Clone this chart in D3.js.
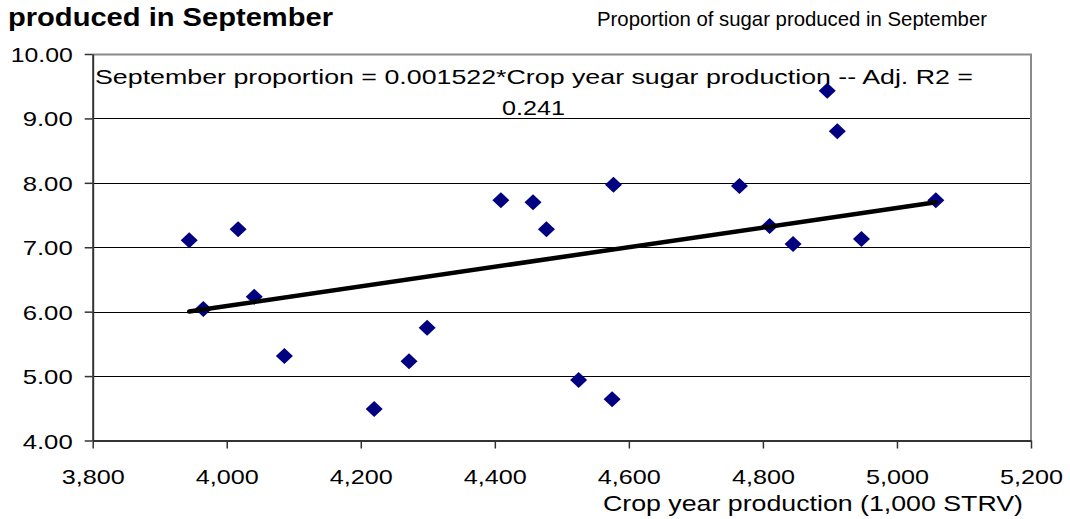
<!DOCTYPE html>
<html>
<head>
<meta charset="utf-8">
<script src="https://cdn.jsdelivr.net/npm/d3@7"></script>
<style>
  body { margin: 0; background: #fff; }
  text { font-family: "Liberation Sans", Arial, sans-serif; fill: #000; }
</style>
</head>
<body>
<div id="chart"></div>
<script>
// Crop year production (1,000 STRV) and share produced in September
var production = [3944, 3965, 4017, 4041, 4086, 4220, 4272, 4299, 4409, 4457, 4477,
                  4525, 4577, 4575, 4765, 4810, 4845, 4896, 4911, 4947, 5058];
var septShare  = [7.11, 6.04, 7.28, 6.23, 5.31, 4.49, 5.23, 5.75, 7.73, 7.70, 7.28,
                  4.94, 7.97, 4.64, 7.95, 7.33, 7.05, 9.43, 8.80, 7.13, 7.73];
var slope = 0.001522;
var xTicks = [3800, 4000, 4200, 4400, 4600, 4800, 5000, 5200];
var yTicks = [4, 5, 6, 7, 8, 9, 10];

var W = 1070, H = 519;
var margin = {top: 54, right: 39, bottom: 78.5, left: 92.7};

var xScale = d3.scaleLinear().domain([3800, 5200]).range([margin.left, W - margin.right]);
var yScale = d3.scaleLinear().domain([4, 10]).range([H - margin.bottom, margin.top]);

var svg = d3.select("#chart").append("svg")
    .attr("width", W)
    .attr("height", H);

// stretch a text node to a given width (the source chart is wider than normal type)
function fit(sel, w) {
  sel.attr("textLength", w).attr("lengthAdjust", "spacingAndGlyphs");
}

// gridlines
svg.append("g")
  .selectAll("line")
  .data(yTicks.slice(1, -1))
  .enter().append("line")
    .attr("x1", margin.left).attr("x2", W - margin.right)
    .attr("y1", function(d) { return Math.round(yScale(d)) + 0.5; })
    .attr("y2", function(d) { return Math.round(yScale(d)) + 0.5; })
    .attr("stroke", "#000").attr("stroke-width", 1);

// top and right frame
svg.append("path")
    .attr("d", "M" + margin.left + "," + (margin.top + 0.5) + "H" + (W - margin.right) + "V" + (H - margin.bottom))
    .attr("fill", "none").attr("stroke", "#8a8a8a").attr("stroke-width", 2);

// x axis
var xAxis = svg.append("g")
    .attr("transform", "translate(0," + (H - margin.bottom) + ")")
    .call(d3.axisBottom(xScale).tickValues(xTicks).tickSize(8).tickSizeOuter(0).tickFormat(d3.format(",")));
xAxis.select(".domain").attr("stroke", "#333").attr("stroke-width", 2);
xAxis.selectAll(".tick line").attr("stroke", "#333").attr("stroke-width", 1.5);
xAxis.selectAll(".tick text")
    .attr("y", 43).attr("dy", null)
    .style("font-size", "21px")
    .call(fit, 63);

// y axis
var yAxis = svg.append("g")
    .attr("transform", "translate(" + margin.left + ",0)")
    .call(d3.axisLeft(yScale).tickValues(yTicks).tickSize(8).tickSizeOuter(0).tickFormat(d3.format(".2f")));
yAxis.select(".domain").attr("stroke", "#333").attr("stroke-width", 2);
yAxis.selectAll(".tick text")
    .attr("x", -20).attr("dy", "0.36em")
    .style("font-size", "21px")
    .each(function(d) { d3.select(this).call(fit, d >= 10 ? 62 : 50); });
yAxis.selectAll(".tick line").attr("stroke", "#333").attr("stroke-width", 1.5);

// data points
var diamond = "M0,-8L8.5,0L0,8L-8.5,0Z";
svg.append("g")
  .selectAll("path")
  .data(production)
  .enter().append("path")
    .attr("d", diamond)
    .attr("fill", "#000080")
    .attr("transform", function(d, i) {
      return "translate(" + xScale(d) + "," + yScale(septShare[i]) + ")";
    });

// trend line through origin, drawn across the data range
var xr = d3.extent(production);
svg.append("line")
    .attr("x1", xScale(xr[0])).attr("y1", yScale(slope * xr[0]))
    .attr("x2", xScale(xr[1])).attr("y2", yScale(slope * xr[1]))
    .attr("stroke", "#000").attr("stroke-width", 4.5).attr("stroke-linecap", "round");

// equation label
svg.append("text")
    .attr("x", 95).attr("y", 84)
    .style("font-size", "21px")
    .text("September proportion = 0.001522*Crop year sugar production -- Adj. R2 =")
    .call(fit, 878);
svg.append("text")
    .attr("x", 502).attr("y", 115)
    .style("font-size", "21px")
    .text("0.241")
    .call(fit, 63);

// titles
svg.append("text")
    .attr("x", 8).attr("y", 26)
    .style("font-size", "25px").style("font-weight", "bold")
    .text("produced in September")
    .call(fit, 325);
svg.append("text")
    .attr("x", 597).attr("y", 26)
    .style("font-size", "21px")
    .text("Proportion of sugar produced in September")
    .call(fit, 390);
svg.append("text")
    .attr("x", 603).attr("y", 511)
    .style("font-size", "22px")
    .text("Crop year production (1,000 STRV)")
    .call(fit, 420);
</script>
</body>
</html>
